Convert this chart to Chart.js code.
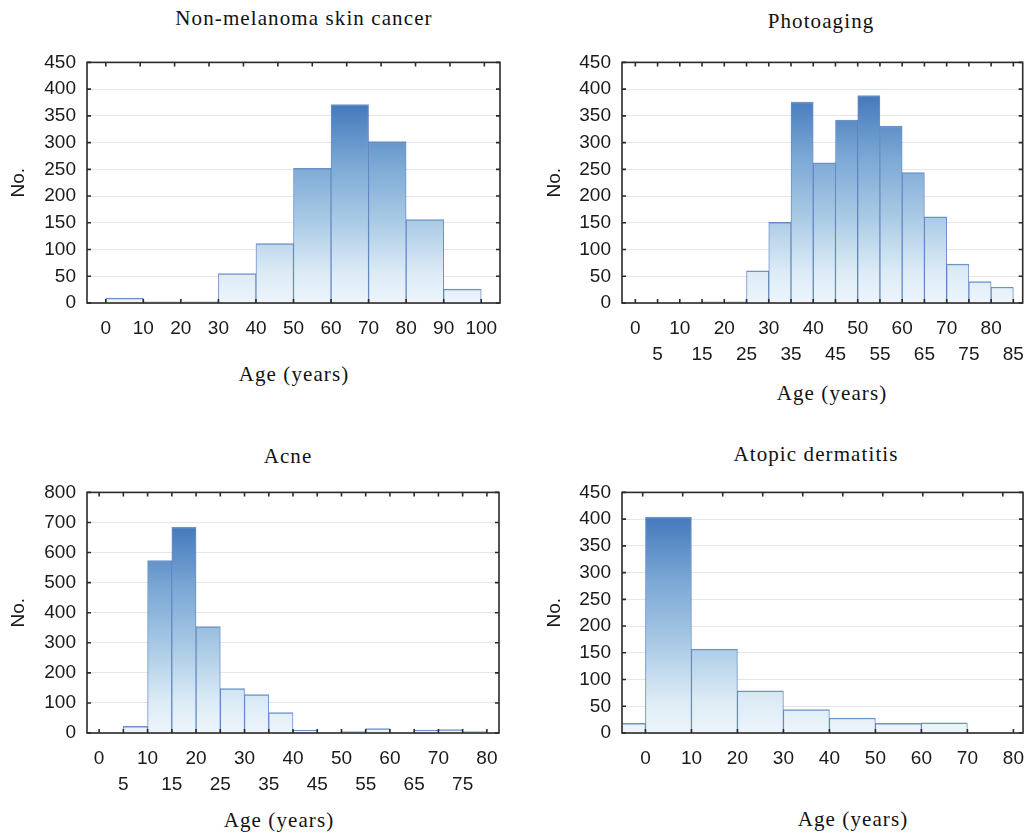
<!DOCTYPE html>
<html>
<head>
<meta charset="utf-8">
<script src="https://cdn.jsdelivr.net/npm/chart.js@4/dist/chart.umd.min.js"></script>
<style>
html,body{margin:0;padding:0;background:#fff;}
#wrap{position:relative;width:1036px;height:834px;overflow:hidden;background:#fff;}
canvas{position:absolute;}
.t{position:absolute;transform:translate(-50%,-50%);white-space:nowrap;line-height:1;
   font-family:"Liberation Serif","Times New Roman",serif;font-size:21px;letter-spacing:1.1px;color:#111;}
</style>
</head>
<body>
<div id="wrap">
  <canvas id="c1" width="510" height="320" style="left:0px;top:40px;width:510px;height:320px"></canvas>
  <canvas id="c2" width="506" height="335" style="left:530px;top:40px;width:506px;height:335px"></canvas>
  <canvas id="c3" width="510" height="335" style="left:0px;top:470px;width:510px;height:335px"></canvas>
  <canvas id="c4" width="506" height="320" style="left:530px;top:470px;width:506px;height:320px"></canvas>

  <div class="t" style="left:304px;top:18px;">Non-melanoma skin cancer</div>
  <div class="t" style="left:821px;top:21px;">Photoaging</div>
  <div class="t" style="left:288px;top:456px;">Acne</div>
  <div class="t" style="left:816px;top:454px;">Atopic dermatitis</div>

  <div class="t" style="left:294px;top:374px;">Age (years)</div>
  <div class="t" style="left:832px;top:393px;">Age (years)</div>
  <div class="t" style="left:279px;top:820px;">Age (years)</div>
  <div class="t" style="left:853px;top:819px;">Age (years)</div>
</div>

<script>
// ---------- Data ----------
// Non-melanoma skin cancer: 10-year bins
const nmscBinStart = [0, 10, 20, 30, 40, 50, 60, 70, 80, 90];
const nmscCounts   = [9, 2, 2, 55, 111, 252, 371, 302, 156, 26];

// Photoaging: 5-year bins
const photoBinStart = [0, 5, 10, 15, 20, 25, 30, 35, 40, 45, 50, 55, 60, 65, 70, 75, 80];
const photoCounts   = [0, 0, 0, 2, 2, 60, 151, 376, 262, 342, 388, 331, 244, 161, 73, 40, 30];

// Acne: 5-year bins
const acneBinStart = [0, 5, 10, 15, 20, 25, 30, 35, 40, 45, 50, 55, 60, 65, 70, 75];
const acneCounts   = [0, 22, 573, 685, 354, 148, 128, 68, 9, 1, 5, 15, 1, 10, 11, 5];

// Atopic dermatitis: 10-year bins
const adBinStart = [-10, 0, 10, 20, 30, 40, 50, 60, 70];
const adCounts   = [18, 404, 157, 79, 44, 28, 18, 19, 1];

// Tick labels
const xTicksTen100 = [0, 10, 20, 30, 40, 50, 60, 70, 80, 90, 100];
const xTicksFive85 = [0, 5, 10, 15, 20, 25, 30, 35, 40, 45, 50, 55, 60, 65, 70, 75, 80, 85];
const xTicksFive80 = [0, 5, 10, 15, 20, 25, 30, 35, 40, 45, 50, 55, 60, 65, 70, 75, 80];
const xTicksTen80  = [0, 10, 20, 30, 40, 50, 60, 70, 80];
const yTicks450 = [0, 50, 100, 150, 200, 250, 300, 350, 400, 450];
const yTicks800 = [0, 100, 200, 300, 400, 500, 600, 700, 800];

// Minor top-axis tick positions (top frame) where they differ from the bottom axis
const nmscTopTicks = [0, 9.17, 18.33, 27.5, 36.67, 45.83, 55, 64.17, 73.33, 82.5, 91.67, 100.83];
const adTopTicks   = [-0.6, 8.1, 16.8, 25.5, 34.2, 42.9, 51.6, 60.3, 69.0, 77.7];

// ---------- Drawing ----------
const TICK_FONT = '"Liberation Sans", Arial, sans-serif';
const INK = '#1a1a1a';

const framePlugin = {
  id: 'frame',
  afterDatasetsDraw(chart, args, opts) {
    const {ctx, chartArea: a, scales: {x, y}} = chart;
    ctx.save();
    ctx.strokeStyle = '#2a2a2a';
    ctx.lineWidth = 1.6;
    ctx.strokeRect(a.left, a.top, a.right - a.left, a.bottom - a.top);
    const L = 4;
    ctx.beginPath();
    x.ticks.forEach(t => {
      const px = x.getPixelForValue(t.value);
      ctx.moveTo(px, a.bottom); ctx.lineTo(px, a.bottom - L);
    });
    const top = (opts && opts.topTicks) ? opts.topTicks : x.ticks.map(t => t.value);
    top.forEach(v => {
      const px = x.getPixelForValue(v);
      if (px < a.left + 1 || px > a.right - 1) return;
      ctx.moveTo(px, a.top); ctx.lineTo(px, a.top + L);
    });
    y.ticks.forEach(t => {
      const py = y.getPixelForValue(t.value);
      ctx.moveTo(a.left, py); ctx.lineTo(a.left + L, py);
      ctx.moveTo(a.right, py); ctx.lineTo(a.right - L, py);
    });
    ctx.stroke();
    ctx.restore();
  }
};

function makeHist(id, cfg) {
  const data = cfg.bins.map((b, i) => ({x: b + cfg.width / 2, y: cfg.counts[i]}));
  const maxVal = Math.max(...cfg.counts);
  const twoRow = cfg.twoRow;
  new Chart(document.getElementById(id), {
    type: 'bar',
    data: {
      datasets: [{
        data,
        barPercentage: 1,
        categoryPercentage: 1,
        backgroundColor: (c) => {
          const ch = c.chart, area = ch.chartArea;
          if (!area) return '#a9cbe5';
          const topPx = ch.scales.y.getPixelForValue(maxVal);
          const g = ch.ctx.createLinearGradient(0, area.bottom, 0, topPx);
          g.addColorStop(0, '#eef5fb');
          g.addColorStop(0.15, '#dcebf6');
          g.addColorStop(0.4, '#accce6');
          g.addColorStop(0.7, '#7ba8d5');
          g.addColorStop(1, '#4479bb');
          return g;
        },
        borderColor: 'rgba(48,98,178,0.7)',
        borderWidth: {top: 1.5, left: 1, right: 1, bottom: 0},
        borderSkipped: 'start'
      }]
    },
    options: {
      responsive: false,
      animation: false,
      devicePixelRatio: 1,
      layout: {padding: {top: 13, right: cfg.padRight, left: 0, bottom: 0}},
      plugins: {
        legend: {display: false},
        tooltip: {enabled: false},
        frame: {topTicks: cfg.topTicks || null}
      },
      scales: {
        x: {
          type: 'linear',
          offset: false,
          min: cfg.xmin,
          max: cfg.xmax,
          afterBuildTicks: s => { s.ticks = cfg.xTicks.map(v => ({value: v})); },
          afterFit: s => { s.height = cfg.xAxisH; },
          grid: {display: false, drawTicks: false, offset: false},
          border: {display: false},
          ticks: {
            autoSkip: false, maxRotation: 0, minRotation: 0, padding: 12,
            color: INK,
            font: {family: TICK_FONT, size: 19, lineHeight: 1.4},
            callback: (v) => {
              if (!twoRow) return String(v);
              return (v % 10 === 0) ? [String(v), ''] : ['', String(v)];
            }
          }
        },
        y: {
          min: 0,
          max: cfg.ymax,
          afterBuildTicks: s => { s.ticks = cfg.yTicks.map(v => ({value: v})); },
          afterFit: s => { s.width = cfg.yAxisW; },
          grid: {color: '#e6e6e6', lineWidth: 1, drawTicks: false},
          border: {display: false},
          ticks: {
            padding: 11, color: INK,
            font: {family: TICK_FONT, size: 19, lineHeight: 1.2}
          },
          title: {
            display: true, text: 'No.', color: INK,
            font: {family: TICK_FONT, size: 19, lineHeight: 1.2},
            padding: {top: cfg.yTitlePad, bottom: 0}
          }
        }
      }
    },
    plugins: [framePlugin]
  });
}

makeHist('c1', {
  bins: nmscBinStart, counts: nmscCounts, width: 10,
  xmin: -5, xmax: 105, xTicks: xTicksTen100, twoRow: false, topTicks: nmscTopTicks,
  ymax: 450, yTicks: yTicks450, yAxisW: 87, yTitlePad: 7, xAxisH: 57, padRight: 10
});
makeHist('c2', {
  bins: photoBinStart, counts: photoCounts, width: 5,
  xmin: -3, xmax: 87.1, xTicks: xTicksFive85, twoRow: true,
  ymax: 450, yTicks: yTicks450, yAxisW: 92, yTitlePad: 13, xAxisH: 72, padRight: 3
});
makeHist('c3', {
  bins: acneBinStart, counts: acneCounts, width: 5,
  xmin: -2.5, xmax: 82.5, xTicks: xTicksFive80, twoRow: true,
  ymax: 800, yTicks: yTicks800, yAxisW: 87, yTitlePad: 7, xAxisH: 72, padRight: 11
});
makeHist('c4', {
  bins: adBinStart, counts: adCounts, width: 10,
  xmin: -5.1, xmax: 82.1, xTicks: xTicksTen80, twoRow: false, topTicks: adTopTicks,
  ymax: 450, yTicks: yTicks450, yAxisW: 92, yTitlePad: 13, xAxisH: 57, padRight: 2
});
</script>
</body>
</html>
